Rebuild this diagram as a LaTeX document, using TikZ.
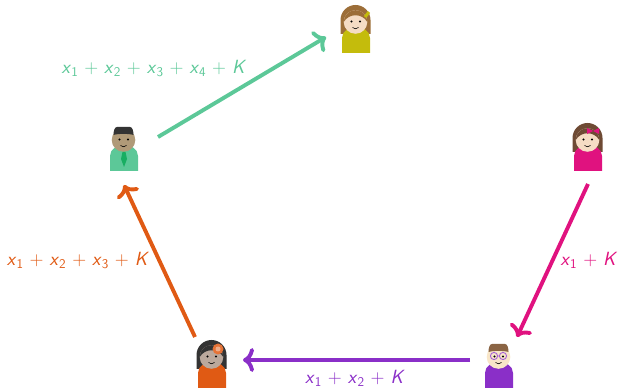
\documentclass[tikz,border=0pt]{standalone}
\usepackage{xcolor}
\usepackage{tikz}
\usetikzlibrary{arrows.meta,positioning}
\definecolor{mint}{HTML}{5CC898}
\definecolor{rust}{HTML}{E05A14}
\definecolor{violet}{HTML}{8A2FC8}
\definecolor{rose}{HTML}{E0127F}
\definecolor{olive}{HTML}{C4BC0C}
\definecolor{tiegreen}{HTML}{18AE62}
\definecolor{lightskin}{HTML}{F5DCC4}
\definecolor{tanskin}{HTML}{B09A78}
\definecolor{greyskin}{HTML}{BBA89C}
\definecolor{paleskin}{HTML}{F8E6C8}
\definecolor{brownhair}{HTML}{9C6E38}
\definecolor{darkhair}{HTML}{6E4A34}
\definecolor{blackhair}{HTML}{333333}
\definecolor{capehair}{HTML}{8A6444}
\newcommand{\xsub}[1]{\textit{x}\textsubscript{#1}}
\tikzset{
  personbox/.style={
    rectangle, minimum width=30pt, minimum height=46pt, inner sep=0pt
  },
  labelnode/.style={
    font=\fontsize{19.1}{20}\selectfont\sffamily, color=#1, inner sep=0pt
  },
  flowarrow/.style={
    -{Computer Modern Rightarrow[length=11pt,width=24pt,round]},
    line width=3.9pt, color=#1
  },
  pics/person/.style n args={2}{code={
    \fill[#1] (-14,-23) -- (-14,-8) .. controls (-14,-1) and (-7,3) .. (0,3)
      .. controls (7,3) and (14,-1) .. (14,-8) -- (14,-23) -- cycle;
    \fill[#2] (-0.5,8) circle (11.8);
    \fill[black] (-4.5,8.5) circle (1.1) (4,8.5) circle (1.1);
    \draw[black, line width=0.6pt] (-3.5,2.5) .. controls (-2,0.8) and (1,0.8) .. (2.5,2.5);
  }},
  pics/longhair/.style={code={
    \fill[#1] (-15.5,-4) -- (-15.5,10) arc (180:0:15) -- (14.5,-4) -- cycle;
  }},
  pics/fringe/.style={code={
    \fill[#1] (-12.3,8) arc (180:0:11.8) .. controls (6,17) and (-7,17) .. cycle;
  }},
  pics/shorthair/.style={code={
    \fill[#1] (-10.5,13) .. controls (-10.5,18) and (-9,21) .. (-7,21) -- (6,21)
      .. controls (8,21) and (9.5,18) .. (9.5,13)
      .. controls (5,14.5) and (-6,14.5) .. cycle;
  }},
}

\begin{document}
\begin{tikzpicture}[x=1pt, y=1pt, on grid]
  \useasboundingbox (0,0) rectangle (621,388);

  \node[personbox] (dave) at (124,240) {};
  \node[personbox, above right=118pt and 232pt of dave] (alice) {};
  \node[personbox, right=464pt of dave] (carol) {};
  \node[personbox, below right=217pt and 88pt of dave] (bob) {};
  \node[personbox, right=287pt of bob] (eve) {};

  % Alice
  \pic at (alice) {longhair=brownhair};
  \pic at (alice) {person={olive}{lightskin}};
  \pic at (alice) {fringe=brownhair};
  \draw[olive, line width=3pt] ([shift={(9,13)}]alice.center) -- ([shift={(13,18)}]alice.center);

  % Dave
  \pic at (dave) {person={mint}{tanskin}};
  \pic at (dave) {shorthair=blackhair};
  \fill[tiegreen] ([shift={(-1.5,-4)}]dave.center) -- ([shift={(1.5,-4)}]dave.center)
    -- ([shift={(3,-11)}]dave.center) -- ([shift={(0,-19)}]dave.center)
    -- ([shift={(-3,-11)}]dave.center) -- cycle;

  % Carol
  \pic at (carol) {longhair=darkhair};
  \pic at (carol) {person={rose}{lightskin}};
  \pic at (carol) {fringe=darkhair};
  \fill[rose] ([shift={(5,17)}]carol.center) -- ([shift={(-1,20)}]carol.center)
    -- ([shift={(-1,14)}]carol.center) -- cycle
    ([shift={(5,17)}]carol.center) -- ([shift={(11,20)}]carol.center)
    -- ([shift={(11,14)}]carol.center) -- cycle;

  % Bob
  \pic at (bob) {longhair=blackhair};
  \pic at (bob) {person={rust}{greyskin}};
  \pic at (bob) {fringe=blackhair};
  \fill[rust!85!white] ([shift={(6,16)}]bob.center) circle (5.5);
  \fill[rust!50!white] ([shift={(6,16)}]bob.center) circle (2.5);

  % Eve
  \pic at (eve) {person={violet}{paleskin}};
  \pic at (eve) {shorthair=capehair};
  \draw[violet!75!white, line width=0.9pt] ([shift={(-5,9)}]eve.center) circle (3.6)
    ([shift={(4,9)}]eve.center) circle (3.6)
    ([shift={(-1.4,9)}]eve.center) -- ([shift={(0.4,9)}]eve.center);

  \draw[flowarrow=mint] ([shift={(34,11)}]dave.center) -- ([shift={(-30,-7)}]alice.center);
  \draw[flowarrow=rose] ([shift={(0,-36)}]carol.center) -- ([shift={(18,28)}]eve.center);
  \draw[flowarrow=violet] ([shift={(-29,5)}]eve.center) -- ([shift={(31,5)}]bob.center);
  \draw[flowarrow=rust] ([shift={(-17,28)}]bob.center) -- ([shift={(0,-37)}]dave.center);

  \node[labelnode=mint, above right=79.5pt and 30pt of dave] (lfour)
    {\xsub{1} + \xsub{2} + \xsub{3} + \xsub{4} + \textit{K}};
  \node[labelnode=rose, below right=112.5pt and 1pt of carol] (lone)
    {\xsub{1} + \textit{K}};
  \node[labelnode=violet, below right=13.5pt and 143pt of bob] (ltwo)
    {\xsub{1} + \xsub{2} + \textit{K}};
  \node[labelnode=rust, below left=112.5pt and 46pt of dave] (lthree)
    {\xsub{1} + \xsub{2} + \xsub{3} + \textit{K}};
\end{tikzpicture}
\end{document}
